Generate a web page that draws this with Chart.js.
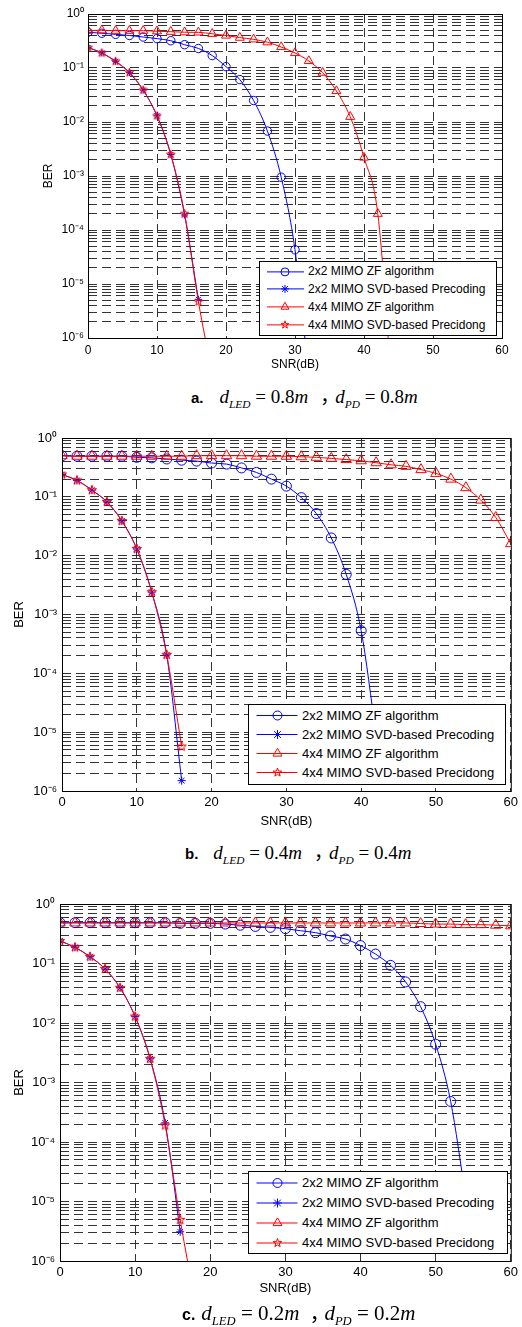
<!DOCTYPE html>
<html>
<head>
<meta charset="utf-8">
<script src="https://cdn.jsdelivr.net/npm/chart.js@4.4.0/dist/chart.umd.min.js"></script>
<style>
body{margin:0;background:#fff;width:522px;height:1327px;position:relative;overflow:hidden;font-family:"Liberation Sans",Arial,sans-serif}
canvas{position:absolute;left:0}
.legend{position:absolute;background:#fff;border:1.5px solid #000;box-sizing:border-box}
.legend .row{position:absolute;left:0;white-space:nowrap;display:flex;align-items:center;color:#000}
.cap{position:absolute;font-family:"Liberation Serif","Times New Roman",serif;white-space:nowrap;color:#000}
.cap b{font-family:"Liberation Sans",Arial,sans-serif;font-style:normal}
.cap sub{font-size:0.6em;font-style:italic}
.cap .sep{font-family:"Noto Sans CJK SC",sans-serif}
</style>
</head>
<body>
<canvas id="chartA" width="522" height="380" style="top:0px"></canvas>
<canvas id="chartB" width="522" height="410" style="top:424px"></canvas>
<canvas id="chartC" width="522" height="410" style="top:890px"></canvas>

<div class="cap" style="left:191px;top:381px;font-size:19px"><b style="font-size:15px;margin-right:16px">a.</b><i>d</i><sub>LED</sub> = 0.8<i>m</i><span class="sep" style="margin:0 -4px 0 12px">，</span><i>d</i><sub>PD</sub> = 0.8<i>m</i></div>
<div class="cap" style="left:185px;top:837px;font-size:19px"><b style="font-size:15px;margin-right:15px">b.</b><i>d</i><sub>LED</sub> = 0.4<i>m</i><span class="sep" style="margin:0 -4px 0 12px">，</span><i>d</i><sub>PD</sub> = 0.4<i>m</i></div>
<div class="cap" style="left:182px;top:1296px;font-size:21px"><b style="font-size:16px;margin-right:6px">c.</b><i>d</i><sub>LED</sub> = 0.2<i>m</i><span class="sep" style="margin:0 -6px 0 10px">，</span><i>d</i><sub>PD</sub> = 0.2<i>m</i></div>

<script>
// SNR axis (dB), each series starts at 0 dB with 2 dB steps
const snr = [0,2,4,6,8,10,12,14,16,18,20,22,24,26,28,30,32,34,36,38,40,42,44,46,48,50,52,54,56,58,60];
const seriesNames = ['2x2 MIMO ZF algorithm', '2x2 MIMO SVD-based Precoding', '4x4 MIMO ZF algorithm', '4x4 MIMO SVD-based Precidong'];
const decades = [1e-6, 1e-5, 1e-4, 1e-3, 1e-2, 1e-1, 1];
const mantissas = [1,2,3,4,5,6,7,8,9];

// a. dLED = 0.8m, dPD = 0.8m
const aZf2 = [0.46,0.44,0.42,0.40,0.375,0.35,0.32,0.27,0.23,0.17,0.106,0.061,0.025,0.0068,9.5e-4,4.3e-5,2e-7];
const aSvd2 = [0.24,0.19,0.133,0.082,0.039,0.013,0.0025,1.9e-4,5.2e-6];
const aZf4 = [0.49,0.50,0.49,0.49,0.49,0.48,0.47,0.46,0.457,0.43,0.40,0.365,0.34,0.30,0.245,0.19,0.135,0.082,0.0375,0.0125,0.0022,2.0e-4,1.5e-7];
const aSvd4 = [0.24,0.19,0.133,0.082,0.039,0.013,0.0025,2.0e-4,4.7e-6,2.2e-7];

// b. dLED = 0.4m, dPD = 0.4m
const bZf2 = [0.50,0.49,0.49,0.49,0.49,0.47,0.46,0.44,0.42,0.405,0.375,0.36,0.31,0.26,0.20,0.152,0.097,0.052,0.020,0.0048,5.3e-4,9e-6];
const bSvd2 = [0.24,0.19,0.13,0.082,0.039,0.013,0.0024,2.06e-4,1.5e-6];
const bZf4 = [0.50,0.49,0.49,0.49,0.49,0.49,0.49,0.49,0.49,0.50,0.50,0.50,0.50,0.49,0.49,0.49,0.48,0.47,0.45,0.43,0.41,0.38,0.35,0.33,0.29,0.25,0.20,0.143,0.088,0.0445,0.016];
const bSvd4 = [0.24,0.19,0.13,0.082,0.039,0.013,0.0024,2.06e-4,5.7e-6];

// c. dLED = 0.2m, dPD = 0.2m
const cZf2 = [0.485,0.485,0.485,0.485,0.485,0.485,0.485,0.485,0.473,0.473,0.473,0.46,0.44,0.42,0.405,0.385,0.356,0.33,0.29,0.258,0.20,0.144,0.093,0.049,0.0188,0.0044,4.8e-4,1.2e-5];
const cSvd2 = [0.24,0.187,0.13,0.081,0.039,0.0128,0.0025,2.1e-4,3.1e-6];
const cZf4 = [0.48,0.48,0.48,0.48,0.48,0.48,0.48,0.48,0.48,0.48,0.48,0.48,0.48,0.48,0.48,0.48,0.48,0.48,0.48,0.48,0.48,0.48,0.48,0.48,0.47,0.46,0.46,0.45,0.45,0.44,0.43];
const cSvd4 = [0.24,0.187,0.13,0.081,0.039,0.0128,0.0025,1.9e-4,4.9e-6,2e-7];

const BLUE = '#0000ff';
const RED = '#ff0000';
const yTicks = [];
decades.forEach(d => {
    if (d === 1) { yTicks.push(1); return; }
    mantissas.forEach(m => yTicks.push(m * d));
});

const SUP = {'0':'⁰','1':'¹','2':'²','3':'³','4':'⁴','5':'⁵','6':'⁶','7':'⁷','8':'⁸','9':'⁹','-':'⁻'};
function decadeLabel(v) {
    const e = Math.round(Math.log10(v));
    if (Math.abs(v / Math.pow(10, e) - 1) > 1e-6) return '';
    return '10' + String(e).split('').map(c => SUP[c]).join('');
}

function pentagramPoints(cx, cy, r) {
    const pts = [];
    for (let i = 0; i < 10; i++) {
        const rr = i % 2 ? r * 0.4 : r;
        const a = -Math.PI / 2 + i * Math.PI / 5;
        pts.push([cx + rr * Math.cos(a), cy + rr * Math.sin(a)]);
    }
    return pts;
}
function pentagram(r, color) {
    const c = document.createElement('canvas');
    const s = Math.ceil(r * 2 + 4);
    c.width = c.height = s;
    const g = c.getContext('2d');
    g.strokeStyle = color;
    g.lineWidth = 1;
    g.beginPath();
    pentagramPoints(s / 2, s / 2, r).forEach((p, i) => i ? g.lineTo(p[0], p[1]) : g.moveTo(p[0], p[1]));
    g.closePath();
    g.stroke();
    return c;
}

function series(ys, name, color, style, radius, order) {
    return {
        label: name,
        data: ys.map((y, i) => ({x: snr[i], y: y})),
        borderColor: color,
        backgroundColor: 'transparent',
        borderWidth: 1,
        pointStyle: style,
        pointRadius: radius,
        pointBorderColor: color,
        pointBackgroundColor: 'rgba(0,0,0,0)',
        pointBorderWidth: 1,
        cubicInterpolationMode: 'monotone',
        order: order
    };
}

const boxPlugin = {
    id: 'box',
    afterDatasetsDraw(chart) {
        const {ctx, chartArea: a} = chart;
        ctx.save();
        ctx.strokeStyle = '#000';
        ctx.lineWidth = 1;
        ctx.setLineDash([]);
        ctx.strokeRect(a.left + 0.5, a.top + 0.5, a.right - a.left, a.bottom - a.top);
        ctx.restore();
    }
};

function makeChart(id, datasets, cfg) {
    const gridOpts = {color: '#333', lineWidth: 1, drawTicks: false};
    const borderOpts = {display: false, dash: [9, 5]};
    return new Chart(document.getElementById(id), {
        type: 'line',
        data: {datasets: datasets},
        options: {
            responsive: false,
            animation: false,
            devicePixelRatio: 1,
            layout: {padding: {left: 0, top: 14, right: cfg.right, bottom: 0}},
            plugins: {legend: {display: false}, tooltip: {enabled: false}},
            scales: {
                x: {
                    type: 'linear', min: 0, max: 60,
                    ticks: {stepSize: 10, color: '#000', font: {size: cfg.fs}, padding: cfg.xPad, maxRotation: 0},
                    grid: gridOpts,
                    border: borderOpts,
                    title: {display: true, text: 'SNR(dB)', color: '#000', font: {size: cfg.fs}, padding: {top: 0, bottom: cfg.xTitlePad}},
                    afterFit: s => { s.height = cfg.xHeight; }
                },
                y: {
                    type: 'logarithmic', min: 1e-6, max: 1,
                    afterBuildTicks: s => { s.ticks = yTicks.map(v => ({value: v})); },
                    ticks: {autoSkip: false, callback: decadeLabel, color: '#000', font: {size: cfg.fs}, padding: cfg.yPad},
                    grid: gridOpts,
                    border: borderOpts,
                    title: {display: true, text: 'BER', color: '#000', font: {size: cfg.fs}, padding: {top: cfg.yTitlePad, bottom: 0}},
                    afterFit: s => { s.width = cfg.yWidth; }
                }
            }
        },
        plugins: [boxPlugin]
    });
}

Chart.defaults.font.family = '"Liberation Sans", Arial, sans-serif';

function plotSeries(zf2, svd2, zf4, svd4, big) {
    return [
        series(zf2, seriesNames[0], BLUE, 'circle', big ? 5 : 4.2, 4),
        series(svd2, seriesNames[1], BLUE, 'star', big ? 4 : 3.5, 3),
        series(zf4, seriesNames[2], RED, 'triangle', big ? 6 : 5.2, 2),
        series(svd4, seriesNames[3], RED, pentagram(big ? 5 : 4.5, RED), 4, 1)
    ];
}

makeChart('chartA', plotSeries(aZf2, aSvd2, aZf4, aSvd4, false),
    {fs: 12, right: 20, xPad: 5, xHeight: 42, xTitlePad: 8, yPad: 4, yWidth: 88, yTitlePad: 41});
makeChart('chartB', plotSeries(bZf2, bSvd2, bZf4, bSvd4, true),
    {fs: 13, right: 11, xPad: 4, xHeight: 43, xTitlePad: 5, yPad: 5, yWidth: 62, yTitlePad: 12});
makeChart('chartC', plotSeries(cZf2, cSvd2, cZf4, cSvd4, true),
    {fs: 13, right: 10, xPad: 4, xHeight: 39, xTitlePad: 4, yPad: 5, yWidth: 60, yTitlePad: 12});

// legends sit inside the plot area, lower right, like the MATLAB ones
const legendMarks = [[BLUE, 'circle'], [BLUE, 'star'], [RED, 'triangle'], [RED, 'pentagram']];
function iconSvg(color, mark, box) {
    const w = box.textX, h = box.rowH, cy = h / 2, mx = box.mx, r = box.r;
    let m = '';
    if (mark === 'circle') {
        m = `<circle cx="${mx}" cy="${cy}" r="${r}" fill="none" stroke="${color}"/>`;
    } else if (mark === 'star') {
        const d = r * 0.75;
        m = `<path d="M${mx - r} ${cy}H${mx + r}M${mx} ${cy - r}V${cy + r}M${mx - d} ${cy - d}L${mx + d} ${cy + d}M${mx - d} ${cy + d}L${mx + d} ${cy - d}" stroke="${color}"/>`;
    } else if (mark === 'triangle') {
        const rr = r * 1.15;
        m = `<polygon points="${mx},${cy - rr} ${mx + rr * 0.866},${cy + rr / 2} ${mx - rr * 0.866},${cy + rr / 2}" fill="none" stroke="${color}"/>`;
    } else {
        const pts = pentagramPoints(mx, cy, r).map(p => p[0].toFixed(2) + ',' + p[1].toFixed(2)).join(' ');
        m = `<polygon points="${pts}" fill="none" stroke="${color}"/>`;
    }
    return `<svg width="${w}" height="${h}" style="display:block;flex:none"><line x1="${box.l0}" y1="${cy}" x2="${box.l1}" y2="${cy}" stroke="${color}"/>${m}</svg>`;
}
function addLegend(box) {
    const el = document.createElement('div');
    el.className = 'legend';
    el.style.left = box.x + 'px';
    el.style.top = box.y + 'px';
    el.style.width = box.w + 'px';
    el.style.height = box.h + 'px';
    el.style.fontSize = box.fs + 'px';
    seriesNames.forEach((name, i) => {
        const row = document.createElement('div');
        row.className = 'row';
        row.style.top = (box.row0 + i * box.rowH - box.rowH / 2) + 'px';
        row.style.height = box.rowH + 'px';
        row.innerHTML = iconSvg(legendMarks[i][0], legendMarks[i][1], box) + `<span>${name}</span>`;
        el.appendChild(row);
    });
    document.body.appendChild(el);
}
addLegend({x: 259, y: 261, w: 238, h: 75, fs: 12, row0: 9.5, rowH: 17.8, l0: 7, l1: 44, mx: 25, r: 4, textX: 48});
addLegend({x: 248, y: 704, w: 258, h: 81, fs: 13, row0: 10.5, rowH: 19, l0: 7.5, l1: 48.5, mx: 28.5, r: 4.5, textX: 53});
addLegend({x: 248, y: 1171, w: 260, h: 83, fs: 13, row0: 10.5, rowH: 20, l0: 7.5, l1: 48.5, mx: 28.5, r: 4.5, textX: 53});
</script>
</body>
</html>
